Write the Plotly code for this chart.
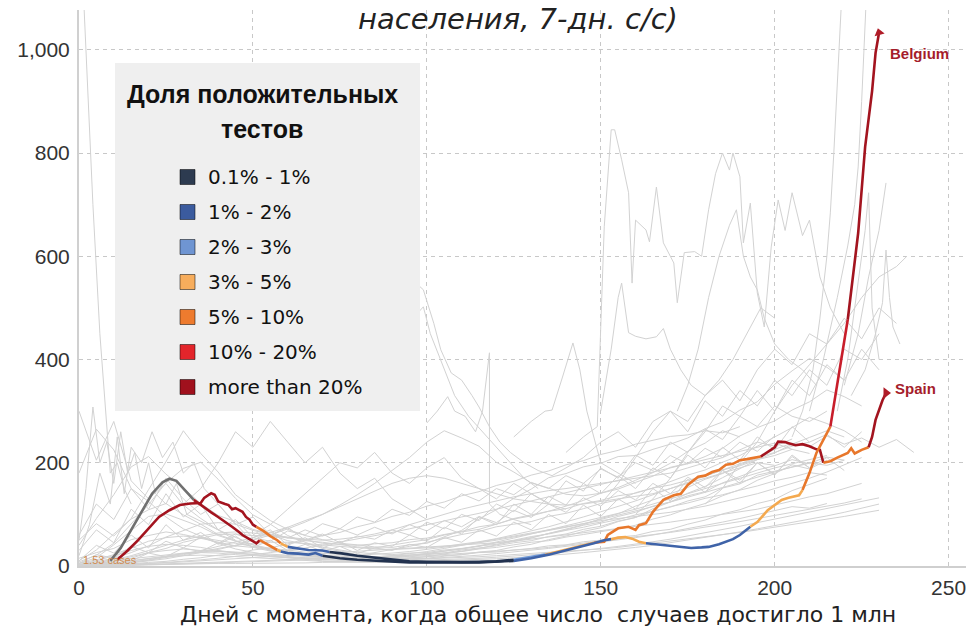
import plotly.graph_objects as go

# ---------------- legend categories ----------------
band_labels = ["0.1% - 1%", "1% - 2%", "2% - 3%", "3% - 5%", "5% - 10%", "10% - 20%", "more than 20%"]
band_colors = ["#2d3b50", "#3b5b9e", "#6f95d2", "#f7ad5c", "#ee7b2e", "#e3252b", "#a0111d"]
line_colors = ["#22324f", "#3f63a8", "#6f98d6", "#f4a94f", "#e8772b", "#c81d2a", "#a3141f"]
no_data_color = "#707070"
grey_color = "#d2d2d2"

# ---------------- highlighted countries ----------------
spain_days = [9, 12, 15, 18, 21, 24, 26, 28, 30, 32,
              33, 35, 38, 40, 42, 44, 46, 47, 49, 51,
              52, 53, 55, 57, 58, 60, 63, 66, 68,
              70, 75, 80, 85, 90, 95, 100, 105, 110, 115, 120,
              125, 128, 131, 134, 137, 140, 143, 146,
              148, 151, 152, 155, 158, 160, 161, 163, 165, 168, 171, 173, 175, 178, 180, 182, 184, 186, 188, 190, 192, 194,
              196, 198, 200, 201, 203, 204, 206, 208, 210, 212, 213,
              214, 216, 218, 220, 221, 222, 223, 225, 226,
              227, 228, 229, 231, 232]
spain_vals = [10, 35, 70, 105, 140, 162, 169, 165, 150, 135,
              128, 118, 104, 95, 86, 76, 66, 60, 52, 44,
              50, 46, 38, 31, 28, 25, 24, 22, 25,
              20, 15, 12, 10, 8, 7, 7, 7, 8, 8, 9,
              12, 15, 18, 22, 27, 31, 37, 42,
              45, 47, 60, 73, 76, 70, 79, 83, 105, 128, 137, 140, 157, 173, 175, 182, 186, 196, 198, 205, 207, 209,
              212, 221, 230, 241, 240, 238, 234, 236, 232, 226, 225,
              200, 203, 210, 215, 219, 228, 218, 225, 228,
              230, 250, 283, 321, 335]
spain_band = [-1, -1, -1, -1, -1, -1, -1, -1, -1, -1,
              6, 6, 6, 6, 6, 6, 6, 6, 6, 6,
              4, 4, 4, 3, 1, 1, 1, 1, 1,
              0, 0, 0, 0, 0, 0, 0, 0, 0, 0, 0,
              2, 2, 2, 3, 3, 3, 3, 3,
              4, 4, 4, 4, 4, 4, 4, 4, 4, 4, 4, 4, 4, 4, 4, 4, 4, 4, 4, 4, 4, 4,
              6, 6, 6, 6, 6, 6, 6, 6, 6, 6, 6,
              4, 4, 4, 4, 4, 4, 4, 4, 4,
              6, 6, 6, 6, 6]

belgium_days = [11, 14, 17, 20, 23, 26, 29, 32, 35, 36, 38, 39, 40, 42, 43, 44, 45, 47, 48, 49, 50,
                51, 53, 55, 57, 58, 60, 63, 66, 70,
                72, 75, 80, 85, 90, 95, 100, 105, 110, 115, 120,
                125, 130, 135, 140, 145, 148, 151,
                153, 155, 157, 159, 161,
                163, 166, 169, 172, 176, 179, 181, 184, 186, 188, 190, 192,
                193, 195, 198, 200, 202, 204, 206, 207,
                208, 210, 212, 214,
                216, 218, 219,
                221, 224, 226, 227, 228, 229, 230]
belgium_vals = [12, 30, 50, 72, 95, 108, 118, 121, 122, 132, 141, 138, 125, 120, 118, 110, 112, 105, 95, 90, 80,
                76, 68, 58, 50, 44, 37, 34, 31, 30,
                27, 25, 20, 16, 12, 9, 8, 7, 7, 7, 8,
                10, 15, 22, 30, 38, 44, 50,
                52, 55, 56, 53, 47,
                44, 42, 41, 38, 35, 36, 37, 42, 47, 52, 60, 70,
                76, 85, 108, 118, 128, 132, 135, 137,
                147, 180, 219, 244,
                270, 350, 390,
                477, 645, 812, 870, 920, 994, 1033]
belgium_band = [6, 6, 6, 6, 6, 6, 6, 6, 6, 6, 6, 6, 6, 6, 6, 6, 6, 6, 6, 6, 6,
                4, 4, 4, 4, 3, 1, 1, 1, 1,
                0, 0, 0, 0, 0, 0, 0, 0, 0, 0, 0,
                1, 1, 1, 1, 1, 1, 1,
                3, 3, 3, 3, 3,
                1, 1, 1, 1, 1, 1, 1, 1, 1, 1, 1, 1,
                3, 3, 3, 3, 3, 3, 3, 3,
                4, 4, 4, 4,
                5, 5, 5,
                6, 6, 6, 6, 6, 6, 6]

# ---------------- other countries (grey), 5-day sampling from day 0 ----------------
grey_step = 5
grey_a = [180, 265, 225, 150, 125, 95, 72, 58, 44, 33, 26, 20, 16, 13, 10, 9, 8, 10, 12, 15, 18, 23, 28, 34, 41, 48, 54, 63, 71, 80, 92, 101, 116, 128, 141, 152, 168, 179, 196, 208, 226, 238, 231, 252, 236, 248, 230, 245, 220]
grey_b = [300, 205, 280, 165, 130, 160, 118, 92, 70, 56, 41, 31, 26, 21, 18, 16, 20, 26, 31, 38, 46, 54, 61, 67, 76, 81, 86, 96, 102, 111, 121, 128, 142, 151, 163, 176, 186, 201, 214, 232, 251, 268, 288, 276, 262, 240]
grey_c = [40, 92, 138, 192, 212, 178, 151, 121, 98, 86, 71, 62, 55, 49, 46, 41, 37, 35, 41, 46, 51, 60, 66, 71, 81, 92, 99, 106, 116, 127, 141, 149, 162, 174, 191, 199, 212, 228, 252, 268, 281, 302, 318, 341, 328, 310]
grey_d = [10, 31, 62, 91, 109, 121, 99, 81, 61, 49, 41, 34, 31, 27, 25, 22, 19, 18, 19, 21, 23, 26, 28, 33, 36, 41, 46, 49, 56, 61, 66, 72, 79, 91, 99, 111, 121, 136, 148, 166, 179, 196, 188, 205]
grey_e = [5, 16, 41, 69, 96, 101, 88, 76, 59, 48, 37, 31, 24, 21, 17, 15, 14, 15, 16, 19, 22, 25, 31, 35, 39, 45, 49, 57, 62, 71, 77, 87, 94, 106, 114, 126, 134, 151, 159, 176, 184, 191, 199, 211, 205]
grey_f = [15, 26, 34, 51, 59, 66, 61, 54, 46, 39, 36, 29, 26, 22, 19, 18, 16, 15, 14, 16, 18, 21, 22, 26, 27, 31, 34, 39, 41, 47, 50, 56, 59, 67, 71, 81, 89, 101, 109, 121, 129, 146, 158, 170]
grey_g = [50, 82, 58, 92, 148, 202, 262, 218, 182, 138, 112, 88, 71, 59, 51, 44, 41, 37, 36, 41, 44, 56, 69, 91, 109, 131, 149, 171, 179, 192, 199, 212, 214, 226, 236, 248, 266, 279, 302, 318, 352, 378, 402, 385, 360]
grey_h = [8, 21, 44, 81, 119, 161, 189, 201, 168, 131, 99, 81, 59, 46, 34, 29, 22, 18, 15, 14, 15, 19, 22, 27, 30, 37, 42, 51, 58, 67, 74, 86, 94, 111, 124, 141, 154, 171, 189, 206, 219, 236, 249, 262, 250]
grey_i = [2, 8, 15, 26, 39, 56, 69, 81, 84, 81, 69, 61, 49, 43, 36, 31, 26, 24, 22, 25, 26, 31, 34, 39, 42, 49, 55, 63, 70, 79, 85, 96, 104, 116, 124, 136, 144, 161, 174, 186, 194, 206, 198]
grey_j = [0, 3, 8, 15, 26, 34, 46, 54, 61, 62, 59, 58, 54, 51, 44, 42, 40, 43, 45, 51, 54, 61, 67, 76, 81, 91, 97, 106, 111, 121, 127, 136, 141, 151, 157, 166, 174, 186, 194, 206, 214, 226, 218]
grey_k = [1, 4, 10, 18, 26, 30, 33, 30, 29, 25, 22, 21, 18, 16, 15, 14, 14, 15, 17, 21, 24, 29, 33, 38, 45, 50, 57, 62, 69, 75, 83, 90, 99, 106, 115, 122, 131, 138, 147, 155, 165, 172, 181, 176]
grey_l = [0, 2, 5, 10, 15, 20, 24, 26, 25, 22, 20, 18, 16, 14, 12, 11, 10, 10, 11, 12, 14, 16, 18, 21, 24, 27, 30, 34, 38, 42, 46, 50, 55, 60, 66, 72, 78, 85, 92, 100, 108, 115, 112, 121]
grey_m = [3, 6, 12, 20, 30, 40, 50, 58, 64, 66, 64, 60, 56, 52, 50, 52, 56, 62, 70, 80, 90, 100, 110, 118, 126, 134, 140, 146, 150, 155, 160, 165, 170, 175, 180, 190, 200, 210, 225, 240, 232, 246]
grey_n = [0, 2, 4, 8, 12, 18, 24, 30, 38, 46, 55, 65, 75, 88, 100, 115, 130, 145, 160, 170, 175, 170, 160, 150, 140, 130, 125, 120, 118, 120, 125, 130, 135, 140, 150, 160, 170, 180, 190, 200, 195]
grey_o = [0, 1, 3, 6, 10, 14, 20, 26, 32, 40, 50, 60, 72, 85, 100, 118, 138, 160, 185, 210, 240, 262, 248, 232, 201, 182, 161, 151, 139, 136, 141, 152, 166, 181, 199, 222, 238, 262, 250]
grey_p = [0, 1, 2, 4, 7, 9, 13, 16, 21, 24, 31, 35, 43, 49, 59, 65, 76, 84, 96, 104, 116, 124, 136, 144, 156, 164, 176, 184, 196, 204, 216, 224, 236, 244, 251, 254, 262, 258, 270]
grey_q = [0, 1, 2, 3, 5, 7, 9, 12, 15, 18, 22, 26, 30, 35, 40, 46, 52, 58, 65, 72, 80, 88, 95, 102, 110, 118, 126, 134, 142, 150, 158, 166, 174, 182, 190, 198, 206, 214, 222, 230, 238, 226]
grey_r = [0, 0, 1, 2, 3, 4, 5, 6, 7, 8, 9, 10, 12, 14, 16, 18, 20, 22, 25, 28, 32, 36, 40, 45, 50, 56, 62, 68, 75, 82, 90, 98, 106, 115, 124, 133, 142, 152, 162, 172, 182, 192, 200, 195, 205]
grey_s = [0, 0, 1, 1, 2, 3, 4, 5, 6, 7, 8, 9, 10, 11, 12, 13, 14, 15, 16, 18, 20, 22, 24, 26, 28, 30, 33, 36, 40, 44, 48, 52, 56, 60, 65, 70, 75, 80, 86, 92, 98, 104, 110, 116, 122, 130]
grey_t = [0, 1, 2, 3, 4, 6, 8, 10, 12, 14, 16, 18, 20, 22, 24, 26, 28, 30, 32, 34, 36, 38, 40, 42, 45, 48, 52, 56, 60, 64, 68, 72, 76, 80, 85, 90, 95, 100, 105, 110, 118, 126, 134, 140, 150, 160]
grey_u = [2, 5, 9, 14, 18, 22, 25, 27, 28, 27, 25, 22, 20, 18, 16, 14, 13, 12, 12, 13, 14, 15, 16, 18, 20, 22, 24, 26, 28, 30, 33, 36, 40, 44, 48, 52, 56, 60, 65, 70, 75, 80, 85, 90, 96, 102, 108]
grey_v = [1, 3, 6, 10, 14, 18, 20, 21, 20, 18, 16, 14, 12, 10, 9, 8, 7, 7, 7, 8, 9, 10, 11, 12, 14, 16, 18, 20, 23, 26, 29, 32, 36, 40, 45, 50, 55, 60, 66, 72, 78, 84, 90, 97, 104, 112, 120]
grey_w = [5, 12, 22, 35, 48, 55, 58, 55, 50, 44, 38, 33, 28, 24, 21, 19, 18, 18, 19, 21, 24, 28, 33, 39, 46, 54, 62, 70, 78, 86, 94, 102, 110, 120, 130, 140, 150, 160, 170, 180, 190, 198, 206, 214]
grey_x = [0, 2, 4, 7, 11, 16, 22, 28, 34, 40, 44, 46, 46, 44, 41, 38, 35, 33, 32, 33, 35, 38, 42, 47, 53, 60, 68, 76, 85, 95, 105, 115, 126, 138, 150, 162, 174, 186, 198, 210, 220, 232, 240]
grey_y = [0, 1, 1, 2, 3, 3, 4, 4, 5, 5, 5, 6, 6, 6, 7, 7, 8, 8, 9, 10, 11, 12, 13, 15, 17, 19, 21, 24, 27, 30, 34, 38, 42, 47, 52, 58, 64, 70, 77, 84, 91, 98, 105, 112, 118, 125, 132]
grey_z = [3, 10, 20, 30, 38, 42, 40, 36, 30, 26, 22, 18, 16, 15, 14, 14, 15, 17, 20, 24, 28, 34, 40, 46, 52, 58, 64, 70, 76, 82, 88, 92, 96, 100, 104, 110, 116, 124, 132, 140, 150, 160, 170, 182, 196, 210]
grey_j2 = [30, 70, 45, 110, 80, 140, 95, 120, 70, 90, 55, 70, 40, 55, 35, 48, 30, 45, 38, 60, 48, 75, 62, 95, 80, 120, 100, 135, 118, 160, 140, 175, 150, 190, 170, 215, 190, 230, 205, 250, 225, 270, 240, 255, 230, 260]
grey_j3 = [10, 40, 25, 60, 35, 80, 50, 65, 42, 58, 36, 50, 30, 42, 28, 38, 24, 35, 30, 42, 36, 55, 46, 70, 58, 85, 70, 100, 82, 118, 96, 130, 110, 150, 126, 168, 142, 185, 160, 200, 176, 215, 190, 210, 185]
grey_j4 = [60, 120, 90, 150, 110, 170, 130, 100, 120, 80, 95, 60, 75, 50, 62, 45, 58, 52, 70, 60, 85, 72, 100, 88, 120, 105, 140, 122, 165, 145, 190, 170, 215, 195, 240, 220, 265, 245, 290, 270, 310, 290, 280, 300]
grey_j5 = [0, 5, 15, 10, 25, 18, 35, 28, 45, 38, 55, 48, 68, 60, 82, 72, 95, 85, 110, 98, 125, 112, 140, 126, 150, 138, 162, 150, 175, 160, 188, 172, 200, 185, 214, 198, 228, 210, 240, 222, 252]
grey_j6 = [5, 22, 15, 38, 26, 48, 35, 56, 44, 62, 50, 66, 54, 70, 58, 72, 60, 75, 62, 80, 68, 88, 76, 96, 84, 108, 94, 120, 104, 132, 116, 146, 128, 160, 140, 172, 152, 186, 166, 200, 178, 212, 190]

# ---------------- grey countries with irregular day sampling ----------------
spike_a_days = [95, 99, 102, 104, 107, 110, 113, 115, 118, 121, 124, 128, 132, 136, 140, 145, 150, 155, 160, 165, 170, 175, 180, 185, 190, 195, 200, 205, 210, 215, 220, 225, 230]
spike_a_vals = [560, 535, 470, 419, 374, 360, 330, 308, 270, 240, 220, 200, 185, 175, 190, 210, 240, 260, 230, 280, 300, 260, 320, 290, 340, 310, 360, 330, 380, 350, 420, 400, 450]
spike_b_days = [96, 99, 101, 104, 108, 112, 116, 120, 124, 128, 132]
spike_b_vals = [480, 502, 450, 400, 330, 290, 260, 230, 200, 170, 150]
spike_c_days = [140, 145, 149, 151, 153, 154, 156, 158, 159, 160, 163, 164, 166, 168, 171, 172, 174, 177, 179, 181,
                183, 185, 187, 188, 190, 191, 193, 195, 197, 199, 201, 203, 205, 208, 210, 213, 216, 220]
spike_c_vals = [220, 250, 270, 657, 845, 845, 787, 723, 548, 670, 651, 628, 734, 626, 587, 510, 607, 609, 600, 690,
                760, 800, 767, 800, 754, 626, 703, 529, 463, 618, 709, 650, 723, 640, 670, 560, 500, 450]
spike_d_days = [150, 153, 155, 156, 158, 160, 163, 166, 168, 170, 173, 176, 180, 184, 188, 192, 196, 200]
spike_d_vals = [300, 420, 520, 548, 452, 445, 440, 444, 460, 420, 380, 350, 330, 360, 400, 450, 500, 480]
spike_e_days = [172, 175, 178, 181, 184, 187, 189, 191, 193, 195, 197, 200, 204, 208, 212]
spike_e_vals = [300, 350, 420, 520, 600, 660, 690, 600, 560, 535, 480, 430, 400, 380, 350]
spike_f_days = [125, 130, 134, 136, 139, 142, 144, 146, 150, 155, 160]
spike_f_vals = [250, 280, 300, 302, 366, 432, 380, 300, 200, 180, 160]
spike_g_days = [100, 103, 106, 108, 111, 114, 116, 118, 118, 121, 125, 130]
spike_g_vals = [277, 300, 328, 300, 290, 260, 300, 413, 120, 100, 90, 80]
tall_a_days = [205, 208, 211, 213, 215, 216, 217, 218, 219, 220]
tall_a_vals = [250, 300, 380, 480, 600, 684, 800, 950, 1080, 1200]
tall_b_days = [210, 214, 218, 221, 223, 224, 225, 226, 227]
tall_b_vals = [300, 400, 520, 620, 700, 773, 900, 1050, 1200]
tall_c_days = [218, 221, 224, 226, 227, 228, 230]
tall_c_vals = [300, 400, 550, 650, 723, 500, 400]
tall_d_days = [220, 224, 227, 230, 232]
tall_d_vals = [350, 450, 560, 650, 742]
tall_e_days = [222, 226, 229, 231, 232, 233, 234, 236]
tall_e_vals = [330, 380, 450, 510, 612, 520, 463, 430]
early_a_days = [0, 1, 2, 4, 6, 8, 9, 11, 13, 15]
early_a_vals = [1300, 1150, 980, 700, 450, 260, 180, 200, 150, 120]
early_b_days = [0, 2, 4, 6, 8, 10, 12, 14, 16, 18, 20, 22, 25, 28, 31, 34, 37, 40, 45]
early_b_vals = [50, 150, 308, 200, 240, 160, 260, 180, 220, 150, 200, 140, 120, 160, 100, 90, 80, 70, 50]
early_c_days = [0, 3, 6, 9, 11, 13, 15, 18, 21, 24, 27, 30, 33, 36, 40, 44, 48]
early_c_vals = [20, 80, 180, 120, 250, 140, 230, 200, 260, 210, 240, 180, 200, 150, 120, 90, 60]
mid_a_days = [30, 35, 40, 45, 50, 55, 60, 65, 70, 75, 80, 85, 90, 95, 100]
mid_a_vals = [120, 150, 200, 260, 230, 280, 240, 200, 230, 180, 150, 170, 130, 110, 90]
mid_b_days = [50, 55, 60, 65, 70, 75, 80, 85, 90, 95, 100, 105, 110, 115, 120, 125, 130, 135, 140]
mid_b_vals = [60, 80, 110, 140, 170, 200, 190, 220, 180, 160, 190, 210, 170, 150, 130, 160, 140, 120, 110]
high_a_days = [150, 155, 160, 165, 170, 175, 180, 185, 190, 195, 200, 205, 210, 215, 220, 225, 230, 235]
high_a_vals = [120, 160, 210, 260, 300, 280, 330, 360, 320, 380, 420, 390, 450, 430, 480, 440, 500, 470]
high_b_days = [160, 165, 170, 175, 180, 185, 190, 195, 200, 205, 210, 215, 220, 225, 230]
high_b_vals = [100, 130, 170, 220, 260, 310, 290, 340, 300, 360, 330, 390, 360, 420, 380]
high_c_days = [180, 185, 190, 195, 200, 205, 210, 215, 220, 225, 230, 235, 238]
high_c_vals = [120, 150, 200, 240, 300, 350, 390, 430, 470, 520, 560, 580, 600]

x_ticks = [0, 50, 100, 150, 200, 250]
y_ticks = [0, 200, 400, 600, 800, 1000]

# ---------------- figure ----------------
fig = go.Figure()

grid_series = [grey_a, grey_b, grey_c, grey_d, grey_e, grey_f, grey_g, grey_h, grey_i, grey_j, grey_k, grey_l, grey_m,
               grey_n, grey_o, grey_p, grey_q, grey_r, grey_s, grey_t, grey_u, grey_v, grey_w, grey_x, grey_y, grey_z,
               grey_j2, grey_j3, grey_j4, grey_j5, grey_j6]
for vals in grid_series:
    fig.add_trace(go.Scatter(x=[i * grey_step for i in range(len(vals))], y=vals, mode="lines",
                             line=dict(color=grey_color, width=1), hoverinfo="skip", showlegend=False))

irregular = [(spike_a_days, spike_a_vals), (spike_b_days, spike_b_vals), (spike_c_days, spike_c_vals),
             (spike_d_days, spike_d_vals), (spike_e_days, spike_e_vals), (spike_f_days, spike_f_vals),
             (spike_g_days, spike_g_vals), (tall_a_days, tall_a_vals), (tall_b_days, tall_b_vals),
             (tall_c_days, tall_c_vals), (tall_d_days, tall_d_vals), (tall_e_days, tall_e_vals),
             (early_a_days, early_a_vals), (early_b_days, early_b_vals), (early_c_days, early_c_vals),
             (mid_a_days, mid_a_vals), (mid_b_days, mid_b_vals), (high_a_days, high_a_vals),
             (high_b_days, high_b_vals), (high_c_days, high_c_vals)]
for d, v in irregular:
    fig.add_trace(go.Scatter(x=d, y=v, mode="lines", line=dict(color=grey_color, width=1),
                             hoverinfo="skip", showlegend=False))


def add_banded(days, vals, bands):
    i = 0
    n = len(days)
    while i < n:
        j = i
        while j + 1 < n and bands[j + 1] == bands[i]:
            j += 1
        end = min(j + 1, n - 1)
        col = no_data_color if bands[i] < 0 else line_colors[bands[i]]
        fig.add_trace(go.Scatter(x=days[i:end + 1], y=vals[i:end + 1], mode="lines",
                                 line=dict(color=col, width=2.6), hoverinfo="skip", showlegend=False))
        i = j + 1


add_banded(spain_days, spain_vals, spain_band)
add_banded(belgium_days, belgium_vals, belgium_band)

# arrow heads at the series ends
fig.add_trace(go.Scatter(x=[spain_days[-1]], y=[spain_vals[-1]], mode="markers",
                         marker=dict(symbol="triangle-right", size=10, color="#b01c28"),
                         hoverinfo="skip", showlegend=False))
fig.add_trace(go.Scatter(x=[belgium_days[-1]], y=[belgium_vals[-1]], mode="markers",
                         marker=dict(symbol="triangle-up", size=9, color="#b01c28", angle=-15),
                         hoverinfo="skip", showlegend=False))

fig.add_annotation(x=spain_days[-1] + 2, y=spain_vals[-1] + 8, text="<b>Spain</b>", showarrow=False,
                   xanchor="left", yanchor="middle", font=dict(family="Liberation Sans", size=15, color="#a51d2b"))
fig.add_annotation(x=belgium_days[-1] + 2.5, y=belgium_vals[-1] - 40, text="<b>Belgium</b>", showarrow=False,
                   xanchor="left", yanchor="middle", font=dict(family="Liberation Sans", size=15, color="#a51d2b"))
fig.add_annotation(x=0.5, y=12, text="1.53 cases", showarrow=False, xanchor="left", yanchor="middle",
                   font=dict(family="Liberation Sans", size=11, color="#d08a4e"))

# ---------------- layout ----------------
PL, PR, PT, PB = 79, 966, 10, 566


def fx(px):
    return (px - PL) / (PR - PL)


def fy(py):
    return (PB - py) / (PB - PT)


fig.update_layout(
    width=969, height=629,
    margin=dict(l=PL, r=969 - PR, t=PT, b=629 - PB),
    paper_bgcolor="white", plot_bgcolor="white",
    showlegend=False,
    font=dict(family="Liberation Sans, Arial, sans-serif", color="#333333"),
    xaxis=dict(range=[0, 255], tickvals=x_ticks, showgrid=True, gridcolor="#c8c8c8", griddash="4px,4px",
               gridwidth=1, zeroline=False, showline=True, linecolor="#cfcfcf", linewidth=1.5,
               ticks="", tickfont=dict(size=21, color="#333333"), ticklabelstandoff=2, automargin=False),
    yaxis=dict(range=[0, 1077], tickvals=y_ticks, tickformat=",", showgrid=True, gridcolor="#c8c8c8",
               griddash="4px,4px", gridwidth=1, zeroline=False, showline=True, linecolor="#d0d0d0",
               linewidth=2, ticks="", tickfont=dict(size=21, color="#333333"), ticklabelstandoff=3,
               automargin=False),
)

# title (only its lower line is visible at the top edge)
fig.add_annotation(xref="paper", yref="paper", x=fx(518), y=fy(19), text="населения, 7-дн. с/с)",
                   showarrow=False, xanchor="center", yanchor="middle",
                   font=dict(family="DejaVu Sans", size=29, color="#222222", style="italic"))
# x-axis title
fig.add_annotation(xref="paper", yref="paper", x=fx(538), y=fy(614),
                   text="Дней с момента, когда общее число  случаев достигло 1 млн",
                   showarrow=False, xanchor="center", yanchor="middle",
                   font=dict(family="DejaVu Sans", size=22, color="#222222"))

# legend panel
fig.add_shape(type="rect", xref="paper", yref="paper", x0=fx(115), x1=fx(420), y0=fy(411), y1=fy(63),
              fillcolor="#efefef", line=dict(width=0), layer="above")
fig.add_annotation(xref="paper", yref="paper", x=fx(262), y=fy(94), text="<b>Доля положительных</b>",
                   showarrow=False, xanchor="center", yanchor="middle",
                   font=dict(family="Liberation Sans", size=25, color="#111111"))
fig.add_annotation(xref="paper", yref="paper", x=fx(262), y=fy(129), text="<b>тестов</b>",
                   showarrow=False, xanchor="center", yanchor="middle",
                   font=dict(family="Liberation Sans", size=25, color="#111111"))
for k, (lab, col) in enumerate(zip(band_labels, band_colors)):
    cy = 177 + 35 * k
    fig.add_shape(type="rect", xref="paper", yref="paper", x0=fx(180), x1=fx(195), y0=fy(cy + 7.5),
                  y1=fy(cy - 7.5), fillcolor=col, line=dict(color="rgba(0,0,0,0.5)", width=1), layer="above")
    fig.add_annotation(xref="paper", yref="paper", x=fx(206), y=fy(cy), text=lab, showarrow=False,
                       xanchor="left", yanchor="middle",
                       font=dict(family="DejaVu Sans", size=20, color="#111111"))

fig.write_html("out.html", config={"displayModeBar": False},
               post_script="document.body.style.margin='0';document.body.style.overflow='hidden';")
